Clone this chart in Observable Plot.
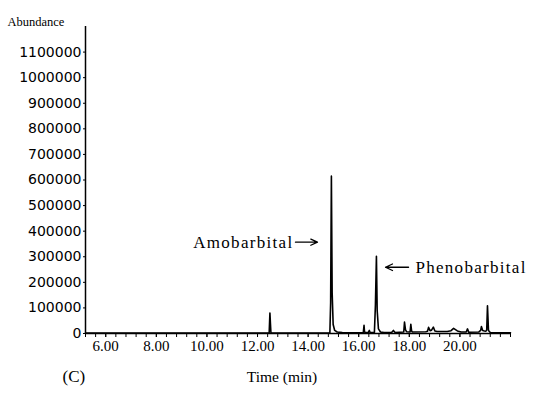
<!DOCTYPE html>
<html>
<head>
<meta charset="utf-8">
<script src="https://cdn.jsdelivr.net/npm/d3@7"></script>
<script src="https://cdn.jsdelivr.net/npm/@observablehq/plot@0.6"></script>
<style>
  html, body { margin: 0; padding: 0; background: #fff; }
</style>
</head>
<body>
<div id="chart"></div>
<script>
// Retention time (min)
const times = [
  5.2, 8.0, 10.0, 12.46, 12.49, 12.51, 12.53, 12.56,
  14.0, 14.86, 14.89, 14.92, 14.95, 14.99, 15.05, 15.15, 15.35, 15.6,
  16.18, 16.21, 16.23, 16.26, 16.38, 16.42, 16.45, 16.62,
  16.66, 16.70, 16.73, 16.78, 16.86, 17.0,
  17.3, 17.37, 17.44, 17.78, 17.81, 17.85, 17.89, 18.03, 18.06, 18.09, 18.12,
  18.65, 18.72, 18.76, 18.82, 18.88, 18.95, 19.01, 19.1,
  19.5, 19.65, 19.75, 19.9, 20.05,
  20.25, 20.30, 20.35, 20.75, 20.82, 20.85, 20.9, 20.97,
  21.03, 21.06, 21.09, 21.13, 21.2, 21.4, 22.0
];
// Abundance
const abundance = [
  1500, 1800, 1500, 1800, 80000, 40000, 3000, 1500,
  2000, 2500, 120000, 615000, 160000, 35000, 12000, 6000, 3500, 2500,
  3000, 32000, 6000, 4000, 4000, 12000, 4000, 4500,
  110000, 302000, 90000, 18000, 6000, 3500,
  4000, 12000, 4000, 6000, 45000, 14000, 7000, 6000, 36000, 10000, 6000,
  7000, 9000, 24000, 11000, 13000, 25000, 10000, 8000,
  8000, 11000, 20000, 10000, 6000,
  6000, 18000, 5000, 6000, 12000, 27000, 12000, 10000,
  9000, 14000, 108000, 12000, 4000, 3000, 2500
];
// Axis ticks and labels
const yTicks = [0, 100000, 200000, 300000, 400000, 500000, 600000, 700000, 800000, 900000, 1000000, 1100000];
const xLabelTicks = [6, 8, 10, 12, 14, 16, 18, 20];
const xLabels = ["6.00", "8.00", "10.00", "12.00", "14.00", "16.00", "18.00", "20.00"];
const peakNames = ["Amobarbital", "Phenobarbital"];

const data = times.map((t, i) => ({t, a: abundance[i]}));
const minorTicks = d3.range(0, 43).map(k => +(5.2 + 0.4 * k).toFixed(2));

const serif = "'Liberation Serif', 'Times New Roman', serif";
const sans = "'DejaVu Sans', Verdana, sans-serif";

const chart = Plot.plot({
  width: 534,
  height: 400,
  marginTop: 26,
  marginBottom: 67,
  marginLeft: 85,
  marginRight: 24,
  style: {background: "#fff", color: "#000", fontFamily: serif},
  x: {domain: [5.2, 22.0]},
  y: {domain: [0, 1200000]},
  marks: [
    Plot.axisY({ticks: yTicks, tickFormat: d => String(d), tickSize: 2, tickPadding: 2,
      fontSize: 14, fontFamily: sans, label: null, stroke: "#000"}),
    Plot.axisX({ticks: minorTicks, tickFormat: () => "", tickSize: 4, label: null, stroke: "#000"}),
    Plot.axisX({ticks: xLabelTicks, tickFormat: d => xLabels[xLabelTicks.indexOf(d)],
      tickSize: 4, tickPadding: 3, fontSize: 15, fontFamily: serif, label: null, stroke: "#000"}),
    Plot.ruleX([5.2], {stroke: "#000", strokeWidth: 1.5}),
    Plot.ruleY([0], {stroke: "#000", strokeWidth: 1.5}),
    Plot.line(data, {x: "t", y: "a", stroke: "#000", strokeWidth: 1.6}),
    Plot.text(["Abundance"], {frameAnchor: "top-left", textAnchor: "start", dx: -78, dy: -9,
      fontSize: 12.5, fontFamily: serif, fill: "#000"}),
    Plot.text(["Time (min)"], {frameAnchor: "bottom", dx: -16, dy: 48,
      fontSize: 15.5, fontFamily: serif, fill: "#000"}),
    Plot.text(["(C)"], {frameAnchor: "bottom-left", textAnchor: "start", dx: -23, dy: 48,
      fontSize: 17, fontFamily: serif, fill: "#000"}),
    Plot.text([{t: 13.42, a: 357000, label: peakNames[0]}], {x: "t", y: "a", text: "label",
      textAnchor: "end", fontSize: 17, fontFamily: serif, fill: "#000"}),
    Plot.arrow([{x1: 13.5, x2: 14.37, y: 357000}], {x1: "x1", x2: "x2", y1: "y", y2: "y",
      stroke: "#000", strokeWidth: 1.3, headLength: 9, headAngle: 50}),
    Plot.text([{t: 18.24, a: 259000, label: peakNames[1]}], {x: "t", y: "a", text: "label",
      textAnchor: "start", fontSize: 17, fontFamily: serif, fill: "#000"}),
    Plot.arrow([{x1: 17.97, x2: 17.06, y: 259000}], {x1: "x1", x2: "x2", y1: "y", y2: "y",
      stroke: "#000", strokeWidth: 1.3, headLength: 9, headAngle: 50})
  ]
});

chart.querySelectorAll("text").forEach(el => {
  if (el.textContent.includes("barbital")) el.setAttribute("letter-spacing", "1.3");
});

document.getElementById("chart").appendChild(chart);
</script>
</body>
</html>
